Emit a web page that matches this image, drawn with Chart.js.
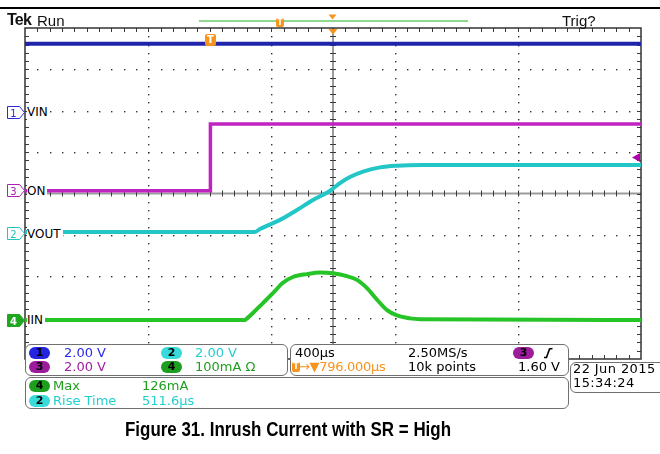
<!DOCTYPE html>
<html>
<head>
<meta charset="utf-8">
<script src="https://cdn.jsdelivr.net/npm/chart.js@4.4.1/dist/chart.umd.min.js"></script>
<style>
  html, body { margin: 0; padding: 0; background: #fff; }
  #wrap { position: relative; width: 660px; height: 454px; overflow: hidden; }
  #scope { position: absolute; left: 0; top: 0; }
  .t { position: absolute; height: 16px; line-height: 16px; white-space: nowrap; font-family: 'DejaVu Sans', sans-serif; font-size: 13px; }
  .hdr { font-family: 'Liberation Sans', Arial, sans-serif; font-size: 15px; color: #111; }
  .lab { background: #fff; font-size: 12px; color: #000; padding-right: 2px; }
  .box { position: absolute; border: 1px solid #707070; border-radius: 6px; background: #fff; box-sizing: border-box; }
  .pill { position: absolute; width: 21px; height: 12px; border-radius: 6px; font: bold 11px 'DejaVu Sans', sans-serif; line-height: 12px; text-align: center; color: #000; }
  .mk { position: absolute; overflow: visible; }
  .tag { position: absolute; background: #f7941d; color: #fff; font: bold 8px 'DejaVu Sans', sans-serif; text-align: center; border-radius: 2px; }
  .line { position: absolute; }
  #caption { position: absolute; left: 125px; top: 417px; font: bold 21px 'Liberation Sans Narrow', 'Arial Narrow', 'Liberation Sans', Arial, sans-serif; line-height: 24px; white-space: nowrap; color: #000; transform-origin: 0 0; }
</style>
</head>
<body>
<div id="wrap">
  <canvas id="scope" width="660" height="454"></canvas>

  <!-- header -->
  <div class="line" style="left:0;top:7px;width:660px;height:2px;background:#000"></div>
  <div class="t hdr" style="left:7px;top:12px;font-weight:bold;font-size:16px;letter-spacing:-0.8px">Tek</div>
  <div class="t hdr" style="left:37px;top:13px">Run</div>
  <div class="t hdr" style="left:562px;top:13px">Trig?</div>
  <div class="line" style="left:199px;top:20px;width:269px;height:2px;background:#8fd68f"></div>
  <div class="tag" style="left:276px;top:18px;width:8px;height:9px;line-height:9px">T</div>
  <svg class="mk" style="left:328px;top:14px" width="9" height="6"><path d="M0.5,0.5H8.5L4.5,5.5Z" fill="#f7941d"/></svg>
  <div class="tag" style="left:205px;top:34px;width:11px;height:12px;line-height:12px;font-size:10px">T</div>

  <!-- channel markers -->
  <svg class="mk" style="left:7px;top:106px" width="19" height="13"><path d="M0.5,0.5H12.5L17.5,6.5L12.5,12.5H0.5Z" fill="#fff" stroke="#2a2ad8"/><text x="6.5" y="10.5" font-family="DejaVu Sans" font-size="10" fill="#2a2ad8" text-anchor="middle">1</text></svg>
  <div class="t lab" style="left:27px;top:104px">VIN</div>
  <svg class="mk" style="left:7px;top:184px" width="19" height="13"><path d="M0.5,0.5H12.5L17.5,6.5L12.5,12.5H0.5Z" fill="#fff" stroke="#b020b0"/><text x="6.5" y="10.5" font-family="DejaVu Sans" font-size="10" fill="#b020b0" text-anchor="middle">3</text></svg>
  <div class="t lab" style="left:27px;top:183px">ON</div>
  <svg class="mk" style="left:7px;top:227px" width="19" height="13"><path d="M0.5,0.5H12.5L17.5,6.5L12.5,12.5H0.5Z" fill="#fff" stroke="#22c4c4"/><text x="6.5" y="10.5" font-family="DejaVu Sans" font-size="10" fill="#22c4c4" text-anchor="middle">2</text></svg>
  <div class="t lab" style="left:27px;top:226px">VOUT</div>
  <svg class="mk" style="left:7px;top:314px" width="19" height="13"><path d="M0.5,0.5H12.5L17.5,6.5L12.5,12.5H0.5Z" fill="#1fa81f" stroke="#1fa81f"/><text x="6.5" y="10.5" font-family="DejaVu Sans" font-size="10" font-weight="bold" fill="#fff" text-anchor="middle">4</text></svg>
  <div class="t lab" style="left:27px;top:312px">IIN</div>

  <!-- readout boxes -->
  <div class="box" style="left:25px;top:344px;width:263px;height:32px"></div>
  <div class="pill" style="left:29px;top:347px;background:#2323e0">1</div>
  <div class="t" style="left:64px;top:345px;color:#2a2ae6">2.00 V</div>
  <div class="pill" style="left:161px;top:347px;background:#38dada">2</div>
  <div class="t" style="left:195px;top:345px;color:#22cfcf">2.00 V</div>
  <div class="pill" style="left:29px;top:361px;background:#9c1c9c">3</div>
  <div class="t" style="left:64px;top:359px;color:#a020a0">2.00 V</div>
  <div class="pill" style="left:161px;top:361px;background:#1e9e1e">4</div>
  <div class="t" style="left:195px;top:359px;color:#1e9e1e">100mA Ω</div>

  <div class="box" style="left:290px;top:344px;width:279px;height:32px"></div>
  <div class="t" style="left:295px;top:345px;color:#000">400μs</div>
  <div class="t" style="left:408px;top:345px;color:#000">2.50MS/s</div>
  <div class="pill" style="left:513px;top:347px;background:#9c1c9c">3</div>
  <svg class="mk" style="left:543px;top:347px" width="11" height="12"><path d="M1,10.5H3.5L6.5,2L9.5,1.5" fill="none" stroke="#000" stroke-width="1.6"/></svg>
  <div class="tag" style="left:292px;top:362px;width:8px;height:10px;line-height:10px">T</div>
  <div class="t" style="left:299px;top:359px;color:#f7941d;letter-spacing:-0.3px">→▼796.000μs</div>
  <div class="t" style="left:408px;top:359px;color:#000">10k points</div>
  <div class="t" style="left:480px;top:359px;width:80px;text-align:right;color:#000">1.60 V</div>

  <div class="box" style="left:25px;top:377px;width:544px;height:32px"></div>
  <div class="pill" style="left:29px;top:380px;background:#1e9e1e">4</div>
  <div class="t" style="left:53px;top:378px;color:#1e9e1e">Max</div>
  <div class="t" style="left:142px;top:378px;color:#1e9e1e">126mA</div>
  <div class="pill" style="left:29px;top:395px;background:#38dada">2</div>
  <div class="t" style="left:53px;top:393px;color:#22cfcf">Rise Time</div>
  <div class="t" style="left:142px;top:393px;color:#22cfcf">511.6μs</div>

  <div class="box" style="left:570px;top:362px;width:96px;height:31px"></div>
  <div class="t" style="left:573px;top:361px;color:#000;letter-spacing:0.4px">22 Jun 2015</div>
  <div class="t" style="left:573px;top:375px;color:#000;letter-spacing:0.4px">15:34:24</div>

  <div id="caption">Figure 31. Inrush Current with SR = High</div>
</div>

<script>
// time in microseconds from screen centre (400 us/div, 10 div)
const vinTime = [-2000, 2000];
const vinVolts = [3.33, 3.33];

const onTime = [-2000, -796, -796, 2000];
const onVolts = [0, 0, 3.22, 3.22];

const voutTime = [-2000, -507, -474, -344, -234, -130, -19, 45, 110, 195, 305, 416, 584, 2000];
const voutVolts = [0.10, 0.10, 0.24, 0.68, 1.16, 1.64, 2.09, 2.46, 2.75, 3.01, 3.22, 3.30, 3.33, 3.33];

const iinTime = [-2000, -571, -558, -520, -455, -390, -325, -260, -169, -84, 0, 91, 156, 221, 286, 351, 416, 500, 565, 2000];
const iinMilliamps = [1, 1, 5, 18, 42, 66, 91, 105, 112, 116, 114, 107, 98, 78, 50, 25, 12, 5, 3, 1];

// channel ground offsets (divisions from centre) and scale per division
const ch1 = { offset: 1.957, perDiv: 2 };
const ch2 = { offset: -0.978, perDiv: 2 };
const ch3 = { offset: 0.068, perDiv: 2 };
const ch4 = { offset: -3.068, perDiv: 100 };
const triggerLevel = 1.60;

function toPoints(times, values, ch) {
    return times.map((t, i) => ({ x: t, y: ch.offset + values[i] / ch.perDiv }));
}

const graticule = {
    id: 'graticule',
    beforeDatasetsDraw(chart) {
        const { ctx, chartArea: a } = chart;
        const w = a.right - a.left, h = a.bottom - a.top;
        const dx = w / 50, dy = h / 40;
        const cx = a.left + w / 2, cy = a.top + h / 2;
        ctx.save();
        // dotted division lines
        ctx.fillStyle = '#333';
        for (let i = 1; i < 10; i++) {
            if (i === 5) continue;
            const px = Math.round(a.left + i * 10 * dx);
            for (let k = 1; k < 40; k++) ctx.fillRect(px, Math.round(a.top + k * dy), 1.4, 1.4);
        }
        for (let j = 1; j < 8; j++) {
            if (j === 4) continue;
            const py = Math.round(a.top + j * 5 * dy);
            for (let k = 1; k < 50; k++) ctx.fillRect(Math.round(a.left + k * dx), py, 1.4, 1.4);
        }
        // centre cross
        ctx.strokeStyle = '#9c9c9c';
        ctx.lineWidth = 2;
        ctx.beginPath();
        ctx.moveTo(a.left, cy); ctx.lineTo(a.right, cy);
        ctx.moveTo(cx, a.top); ctx.lineTo(cx, a.bottom);
        ctx.stroke();
        ctx.strokeStyle = '#3a3a3a';
        ctx.lineWidth = 1;
        ctx.beginPath();
        for (let k = 1; k < 50; k++) {
            const px = Math.round(a.left + k * dx) + 0.5;
            ctx.moveTo(px, cy - 3); ctx.lineTo(px, cy + 3);
            ctx.moveTo(px, a.top); ctx.lineTo(px, a.top + 4);
            ctx.moveTo(px, a.bottom); ctx.lineTo(px, a.bottom - 4);
        }
        for (let k = 1; k < 40; k++) {
            const py = Math.round(a.top + k * dy) + 0.5;
            ctx.moveTo(cx - 3, py); ctx.lineTo(cx + 3, py);
            ctx.moveTo(a.left, py); ctx.lineTo(a.left + 4, py);
            ctx.moveTo(a.right, py); ctx.lineTo(a.right - 4, py);
        }
        ctx.stroke();
        // frame
        ctx.strokeStyle = '#333';
        ctx.lineWidth = 1.5;
        ctx.strokeRect(a.left, a.top, w, h);
        ctx.restore();
    },
    afterDatasetsDraw(chart) {
        const { ctx, chartArea: a, scales: { y } } = chart;
        const cx = (a.left + a.right) / 2;
        ctx.save();
        // trigger time marker
        ctx.fillStyle = '#f7941d';
        ctx.beginPath();
        ctx.moveTo(cx - 4.5, a.top + 1); ctx.lineTo(cx + 4.5, a.top + 1); ctx.lineTo(cx, a.top + 6.5);
        ctx.fill();
        // trigger level marker (ch3)
        const ty = y.getPixelForValue(ch3.offset + triggerLevel / ch3.perDiv);
        ctx.fillStyle = '#b000b0';
        ctx.beginPath();
        ctx.moveTo(a.right - 9, ty); ctx.lineTo(a.right - 1, ty - 4.5); ctx.lineTo(a.right - 1, ty + 4.5);
        ctx.fill();
        ctx.restore();
    }
};

const trace = (data, color, extra) => Object.assign({
    data: data, borderColor: color, borderWidth: 4, pointRadius: 0,
    tension: 0.35, cubicInterpolationMode: 'monotone'
}, extra || {});

new Chart(document.getElementById('scope'), {
    type: 'line',
    data: {
        datasets: [
            trace(toPoints(vinTime, vinVolts, ch1), '#2024aa'),
            trace(toPoints(onTime, onVolts, ch3), '#c024c0', { tension: 0, cubicInterpolationMode: 'default', borderWidth: 3.5 }),
            trace(toPoints(voutTime, voutVolts, ch2), '#22c6c6'),
            trace(toPoints(iinTime, iinMilliamps, ch4), '#26c426')
        ]
    },
    options: {
        responsive: false,
        animation: false,
        devicePixelRatio: 1,
        layout: { padding: { left: 25, top: 28, right: 19, bottom: 95 } },
        plugins: { legend: { display: false }, tooltip: { enabled: false } },
        scales: {
            x: { type: 'linear', min: -2000, max: 2000, display: false },
            y: { min: -4, max: 4, display: false }
        }
    },
    plugins: [graticule]
});

// squeeze caption to the condensed width of the original
const cap = document.getElementById('caption');
cap.style.transform = 'scaleX(' + (326 / cap.getBoundingClientRect().width) + ')';
</script>
</body>
</html>
